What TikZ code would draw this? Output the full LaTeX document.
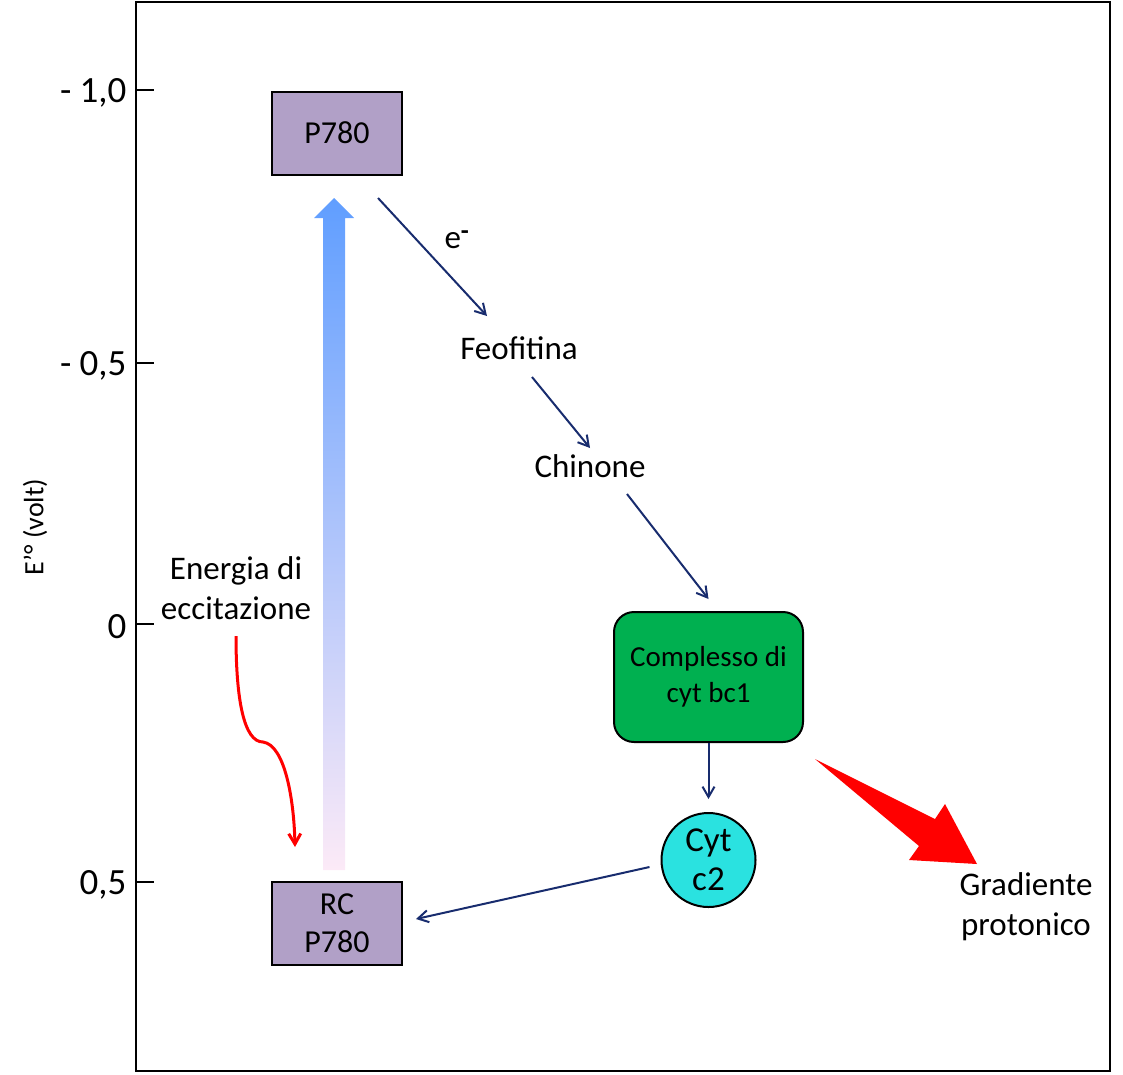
\documentclass[tikz,border=0pt]{standalone}
\usepackage{fontspec}
\setmainfont{Carlito}
\usepackage{xcolor}
\usepackage{tikz}
\usetikzlibrary{positioning,arrows.meta,shapes}
\definecolor{lilla}{RGB}{177,160,199}
\definecolor{verdebc}{RGB}{0,176,80}
\definecolor{ciano}{RGB}{42,226,224}
\definecolor{blunotte}{RGB}{24,44,110}
\definecolor{bluchiaro}{RGB}{96,158,255}
\definecolor{bluvelato}{RGB}{168,204,244}
\definecolor{rosa}{RGB}{252,234,247}

\begin{document}
\begin{tikzpicture}
                [
                x=1pt,y=-1pt,
                scatola/.style={rectangle,draw,line width=2pt,fill=lilla,minimum width=130pt,minimum height=83pt,align=center,font=\fontsize{32}{38}\selectfont},
                testo/.style={align=center,font=\fontsize{33}{40}\selectfont},
                asse/.style={anchor=east,font=\fontsize{37}{40}\selectfont},
                freccia/.style={-{Straight Barb[angle=60:12pt]},line width=2pt,draw=blunotte}
                ]
            \useasboundingbox (0,0) rectangle (1123,1074);
            \draw[line width=1.8pt] (136,2) rectangle (1110,1071);
            \foreach \y/\t in {90/{- 1,0},363/{- 0,5},624/0,882/{0,5}}
            {
                \draw[line width=1.8pt] (136,\y) -- (154,\y);
                \node[asse] at (130,\y+3) {\t};
            }
            \node[rotate=90,font=\fontsize{28}{30}\selectfont] (eo) at (35,527) {E’° (volt)};
            \shade[top color=bluchiaro,middle color=bluvelato,bottom color=rosa]
                (323,870) -- (323,218) -- (314,218) -- (334,198) -- (354,218) -- (345,218) -- (345,870) -- cycle;
            \node[scatola] (p780) at (337,133) {P780};
            \node[scatola] (rc) at (337,923) {RC\\P780};
            \node[testo] (feo) at (519,348) {Feofitina};
            \node[testo] (chin) at (590,466) {Chinone};
            \node[testo] (el) at (457,240) {e\textsuperscript{\fontsize{26}{26}\selectfont\textbf{-}}};
            \node[rectangle,rounded corners=20pt,draw,line width=2pt,fill=verdebc,minimum width=189pt,minimum height=130pt,align=center,font=\fontsize{29}{36}\selectfont] (bc1) at (708.5,677) {Complesso di\\cyt bc1};
            \node[circle,draw,line width=2pt,fill=ciano,minimum size=94pt,inner sep=0pt] (cyt) at (708.5,860) {};
            \node[align=center,font=\fontsize{35}{39}\selectfont] (cyttxt) at (cyt) {Cyt\\c2};
            \node[testo] (en) at (236,588) {Energia di\\eccitazione};
            \node[testo] (grad) at (1026,907) {Gradiente\\protonico};
            \draw[freccia] ([shift={(41,65)}]p780.center) -- ([shift={(-32,-32)}]feo.center);
            \draw[freccia] ([shift={(13,29)}]feo.center) -- ([shift={(0,-18)}]chin.center);
            \draw[freccia] ([shift={(37,28)}]chin.center) -- ([shift={(0,-12)}]bc1.north);
            \draw[freccia,shorten >=13pt] (bc1.south) -- (cyt.north);
            \draw[freccia] ([shift={(-59,7)}]cyt.center) -- ([shift={(13,-4)}]rc.east);
            \draw[-{Straight Barb[angle=60:12pt]},line width=3pt,red]
                ([shift={(0,48)}]en.center) .. controls (236,700) and (244,742) .. (263,742)
                .. controls (285,745) and (294,800) .. ([shift={(-42,-76)}]rc.center);
            \fill[red] (815,759) -- (935,819) -- (945,804) -- (977,864) -- (909,860) -- (919,846) -- cycle;
            \end{tikzpicture}
\end{document}
